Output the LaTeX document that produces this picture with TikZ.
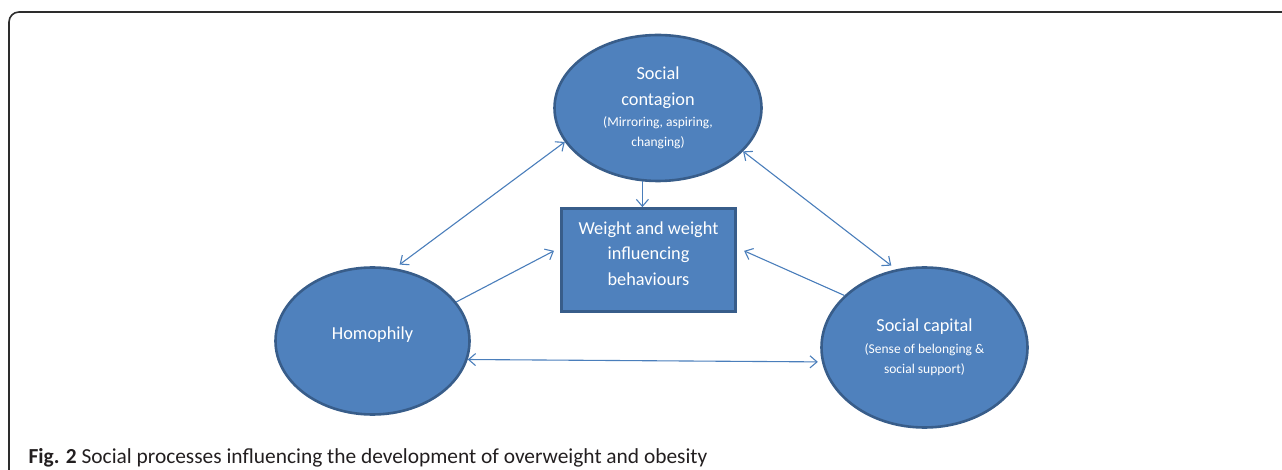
\documentclass[tikz,border=0pt]{standalone}
\usepackage{fontspec}
\setmainfont{Carlito}
\definecolor{fillblue}{RGB}{79, 129, 189}
\definecolor{edgeblue}{RGB}{56, 93, 138}
\definecolor{linkblue}{RGB}{74, 126, 187}
\definecolor{framegray}{RGB}{45, 45, 45}
\definecolor{capgray}{RGB}{35, 31, 32}
\usetikzlibrary{shapes, arrows.meta, positioning, calc}

\begin{document}
\begin{tikzpicture}[x=1pt, y=-1pt,
  >={Straight Barb[length=7pt, width=12pt]},
  blob/.style={ellipse, draw=edgeblue, line width=2.6pt, fill=fillblue, text=white,
               align=center, inner sep=0pt, font=\fontsize{18.3}{21}\selectfont},
  wbox/.style={rectangle, draw=edgeblue, line width=2.6pt, fill=fillblue, text=white,
               align=center, inner sep=0pt, font=\fontsize{18.3}{21}\selectfont},
  lnk/.style={draw=linkblue, line width=1.1pt},
]
\useasboundingbox (0,0) rectangle (1282,470);

% Frame
\draw[framegray, line width=1.6pt, rounded corners=10pt] (9,480) -- (9,12) -- (1295,12);

% Social processes
\node[blob, minimum width=207pt, minimum height=146pt] (contagion) at (658,108)
  {Social\\[5pt]contagion\\[0pt]{\fontsize{13.5}{16}\selectfont (Mirroring, aspiring,}\\[-1pt]{\fontsize{13.5}{16}\selectfont changing)}};
\node[blob, minimum width=194pt, minimum height=147pt, text depth=16pt] (homophily) at (372.5,341) {Homophily};
\node[blob, minimum width=206pt, minimum height=160pt] (capital) at (924.5,347.5)
  {Social capital\\[1pt]{\fontsize{13.5}{16}\selectfont (Sense of belonging \&}\\[-1pt]{\fontsize{13.5}{16}\selectfont social support)}};

% Outcome
\node[wbox, minimum width=174pt, minimum height=103pt] (weight) at (648.5,260)
  {Weight and weight\\[4.5pt]influencing\\[4.5pt]behaviours\\[-14pt]\strut};

% Links
\draw[lnk, ->] (contagion.258) -- (contagion.258 |- weight.north);
\draw[lnk, <->, shorten <=6pt] (homophily.73) -- (contagion.200);
\draw[lnk, <->, shorten >=6pt] (contagion.333) -- (capital.110);
\draw[lnk, ->, shorten >=7pt] (homophily.25) -- (weight.172);
\draw[lnk, ->, shorten >=8pt] (capital.147) -- (weight.8);
\draw[lnk, <->, shorten >=4pt] (homophily.349) -- (capital.188);

% Caption
\node[anchor=base west, text=capgray, font=\fontsize{21.4}{24}\selectfont] (cap) at (25,463)
  {\textbf{Fig. 2} Social processes influencing the development of overweight and obesity};
\end{tikzpicture}
\end{document}
